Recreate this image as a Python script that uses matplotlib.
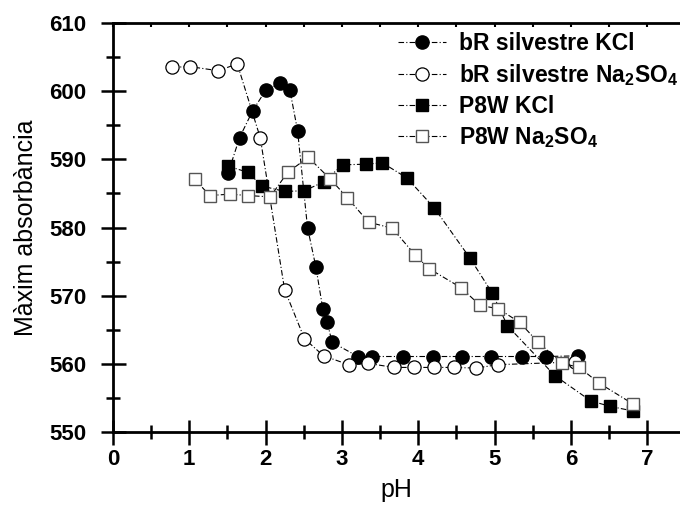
import numpy as np
import matplotlib
matplotlib.use("Agg")
import matplotlib.pyplot as plt
from matplotlib.ticker import MultipleLocator

plt.rcParams['font.family'] = ['Liberation Sans', 'DejaVu Sans']
plt.rcParams['mathtext.fontset'] = 'custom'
plt.rcParams['mathtext.rm'] = 'Liberation Sans:bold'
plt.rcParams['mathtext.bf'] = 'Liberation Sans:bold'
plt.rcParams['mathtext.default'] = 'bf'

# bR silvestre KCl
ph_br_kcl = [1.51, 1.66, 1.83, 2.00, 2.19, 2.32, 2.42, 2.55, 2.66, 2.75, 2.81, 2.87,
             3.21, 3.40, 3.80, 4.19, 4.57, 4.96, 5.36, 5.68, 6.10]
abs_br_kcl = [588.0, 593.2, 597.1, 600.1, 601.2, 600.1, 594.2, 580.0, 574.2, 568.1, 566.1, 563.2,
              561.1, 561.1, 561.1, 561.1, 561.1, 561.1, 561.1, 561.1, 561.2]

# bR silvestre Na2SO4
ph_br_na = [0.78, 1.01, 1.38, 1.63, 1.93, 2.25, 2.51, 2.76, 3.09, 3.34, 3.68, 3.94,
            4.21, 4.47, 4.76, 5.04, 6.05]
abs_br_na = [603.5, 603.6, 603.0, 604.0, 593.2, 570.9, 563.7, 561.2, 559.9, 560.1, 559.5, 559.5,
             559.5, 559.5, 559.4, 559.9, 560.3]

# P8W KCl
ph_p8w_kcl = [1.51, 1.77, 1.95, 2.25, 2.51, 2.76, 3.01, 3.32, 3.53, 3.85, 4.21, 4.68,
              4.97, 5.17, 5.79, 6.26, 6.51, 6.82]
abs_p8w_kcl = [589.0, 588.1, 586.1, 585.3, 585.4, 586.7, 589.2, 589.3, 589.5, 587.3, 582.9, 575.5,
               570.4, 565.6, 558.3, 554.6, 553.8, 553.1]

# P8W Na2SO4
ph_p8w_na = [1.07, 1.27, 1.53, 1.77, 2.06, 2.29, 2.56, 2.85, 3.07, 3.35, 3.66, 3.96, 4.14,
             4.56, 4.81, 5.05, 5.33, 5.57, 5.89, 6.11, 6.37, 6.82]
abs_p8w_na = [587.1, 584.7, 584.9, 584.7, 584.5, 588.1, 590.3, 587.1, 584.4, 580.8, 579.9, 576.0, 574.0,
              571.2, 568.6, 568.1, 566.1, 563.2, 560.1, 559.5, 557.2, 554.1]

labels = ['bR silvestre KCl', r'bR silvestre Na$_2$SO$_4$', 'P8W KCl', r'P8W Na$_2$SO$_4$']

fig = plt.figure(figsize=(6.8, 5.22), dpi=100)
ax = fig.add_axes([0.166, 0.172, 0.834, 0.784])

ls = (0, (5, 2, 1, 2))
ax.plot(ph_br_kcl, abs_br_kcl, linestyle=ls, color='black', linewidth=0.8,
        marker='o', markersize=9.5, markerfacecolor='black', markeredgecolor='black', label=labels[0])
ax.plot(ph_br_na, abs_br_na, linestyle=ls, color='black', linewidth=0.8,
        marker='o', markersize=9.5, markerfacecolor='white', markeredgecolor='black',
        markeredgewidth=0.9, label=labels[1])
ax.plot(ph_p8w_kcl, abs_p8w_kcl, linestyle=ls, color='black', linewidth=0.8,
        marker='s', markersize=8.5, markerfacecolor='black', markeredgecolor='black', label=labels[2])
ax.plot(ph_p8w_na, abs_p8w_na, linestyle=ls, color='black', linewidth=0.8,
        marker='s', markersize=8.5, markerfacecolor='white', markeredgecolor='#555555',
        markeredgewidth=1.0, label=labels[3])

ax.set_xlim(0, 7.43)
ax.set_ylim(550, 610)
ax.xaxis.set_major_locator(MultipleLocator(1))
ax.xaxis.set_minor_locator(MultipleLocator(0.5))
ax.yaxis.set_major_locator(MultipleLocator(10))
ax.yaxis.set_minor_locator(MultipleLocator(5))

for s in ['left', 'bottom', 'top']:
    ax.spines[s].set_linewidth(2.0)
ax.spines['right'].set_visible(False)

ax.tick_params(which='major', direction='inout', length=18, width=1.8,
               labelsize=16, pad=10)
ax.tick_params(which='minor', direction='inout', length=10, width=1.8)
ax.tick_params(axis='x', which='both', top=False)
ax.tick_params(axis='x', which='major', pad=3)
for lab in ax.get_xticklabels() + ax.get_yticklabels():
    lab.set_fontweight('bold')

# small ticks on the top spine
sec = ax.secondary_xaxis('top')
sec.xaxis.set_major_locator(MultipleLocator(0.5))
sec.tick_params(direction='in', length=3, width=1.5, labeltop=False)
sec.spines['top'].set_visible(False)

ax.set_xlabel('pH', fontsize=18, labelpad=6)
ax.set_ylabel('Màxim absorbància', fontsize=18, labelpad=8)

leg = ax.legend(loc='upper left', bbox_to_anchor=(0.487, 1.0), frameon=False,
                prop={'weight': 'bold', 'size': 16.5}, handlelength=2.1,
                handletextpad=0.55, labelspacing=0.3, borderaxespad=0)

fig.savefig('out.png', dpi=100)
